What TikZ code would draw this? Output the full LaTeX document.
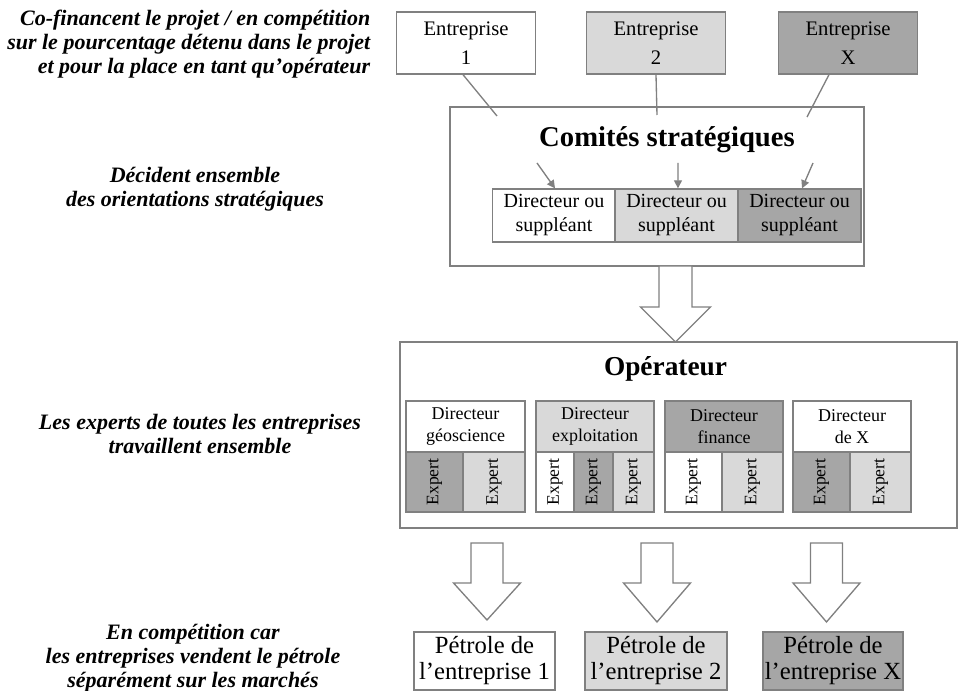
\documentclass[tikz,border=0pt]{standalone}
\usepackage{fontspec}
\setmainfont{Liberation Serif}
\usetikzlibrary{arrows.meta}
\definecolor{boxline}{RGB}{128,128,128}
\definecolor{lightfill}{RGB}{217,217,217}
\definecolor{darkfill}{RGB}{166,166,166}
% hollow arrow pointing down: x, top, head start, tip, shaft half width, head half width
\newcommand{\hollowdown}[6]{%
  \draw[boxline,line width=1pt,fill=white,line join=miter]
    ({#1-#5},#2) -- ({#1-#5},#3) -- ({#1-#6},#3) -- (#1,#4)
    -- ({#1+#6},#3) -- ({#1+#5},#3) -- ({#1+#5},#2) -- cycle;}
\begin{document}
\begin{tikzpicture}[x=0.75pt,y=-0.75pt,
    box/.style={draw=boxline,line width=1pt,inner sep=0pt,align=center},
    entbox/.style={box,minimum width=104pt,minimum height=46.5pt,
      font=\fontsize{15.5}{22}\selectfont},
    dirbox/.style={box,minimum width=92.25pt,minimum height=39.75pt,
      font=\fontsize{15}{18}\selectfont},
    opdir/.style={box,minimum height=38.25pt,font=\fontsize{13.5}{16.5}\selectfont},
    expert/.style={box,minimum height=45pt,font=\fontsize{13.2}{15}\selectfont},
    oilbox/.style={box,minimum height=43.5pt,font=\fontsize{18.5}{19.5}\selectfont},
    side/.style={font=\fontsize{16.5}{18}\selectfont\bfseries\itshape,align=center},
    link/.style={boxline,line width=1pt},
    darr/.style={boxline,line width=1pt,-{Triangle[length=6pt,width=6pt]}}]
  \useasboundingbox (0,0) rectangle (958,691);

  % left column
  \node[side,align=right,anchor=east] (txtfin) at (375,44)
    {Co-financent le projet / en compétition\\sur le pourcentage détenu dans le projet\\et pour la place en tant qu’opérateur};
  \node[side] (txtdec) at (195,189) {Décident ensemble\\des orientations stratégiques};
  \node[side] (txtexp) at (200,434) {Les experts de toutes les entreprises\\travaillent ensemble};
  \node[side] (txtcomp) at (193,658) {En compétition car\\les entreprises vendent le pétrole\\séparément sur les marchés};

  % entreprises
  \node[entbox,fill=white] (ent1) at (466,43) {Entreprise\\1};
  \node[entbox,fill=lightfill] (ent2) at (656,43) {Entreprise\\2};
  \node[entbox,fill=darkfill] (entX) at (848,43) {Entreprise\\X};

  % comites strategiques
  \node[box,fill=white,minimum width=310.5pt,minimum height=119.25pt] (comite) at (657,186.5) {};
  \node[font=\fontsize{21.5}{24}\selectfont\bfseries] (comtitle) at (667,140) {Comités stratégiques};
  \node[dirbox,fill=white] (dir1) at (554,215.5) {Directeur ou\\suppléant};
  \node[dirbox,fill=lightfill] (dir2) at (676.5,215.5) {Directeur ou\\suppléant};
  \node[dirbox,fill=darkfill] (dir3) at (799.5,215.5) {Directeur ou\\suppléant};

  \coordinate (in1) at (497,116);
  \coordinate (in2) at (657,115);
  \coordinate (inX) at (807,117);
  \draw[link] ([xshift=-2.25pt]ent1.south) -- (in1);
  \draw[link] (ent2.south) -- (in2);
  \draw[link] ([xshift=-14.25pt]entX.south) -- (inX);

  \coordinate (s1) at (537,163);
  \coordinate (s2) at (678,163);
  \coordinate (s3) at (813,163);
  \draw[darr] (s1) -- ([xshift=0.75pt]dir1.north);
  \draw[darr] (s2) -- ([xshift=1.1pt]dir2.north);
  \draw[darr] (s3) -- ([xshift=1.9pt]dir3.north);

  % operateur
  \node[box,fill=white,minimum width=417.75pt,minimum height=139.5pt] (oper) at (678.5,435) {};
  \node[font=\fontsize{20.5}{24}\selectfont\bfseries] (optitle) at (665.5,369) {Opérateur};

  \node[opdir,fill=white,minimum width=89.25pt] (geo) at (465.5,426.5) {Directeur\\géoscience};
  \node[expert,fill=darkfill,minimum width=42.75pt] (geoA) at (434.5,482) {\rotatebox{90}{Expert}};
  \node[expert,fill=lightfill,minimum width=46.5pt] (geoB) at (494,482) {\rotatebox{90}{Expert}};

  \node[opdir,fill=lightfill,minimum width=88.5pt] (expl) at (595,426.5) {Directeur\\exploitation};
  \node[expert,fill=white,minimum width=28.5pt] (explA) at (555,482) {\rotatebox{90}{Expert}};
  \node[expert,fill=darkfill,minimum width=29.25pt] (explB) at (593.5,482) {\rotatebox{90}{Expert}};
  \node[expert,fill=lightfill,minimum width=30.75pt] (explC) at (633.5,482) {\rotatebox{90}{Expert}};

  \node[opdir,fill=darkfill,minimum width=88.5pt] (fin) at (724,426.5) {Directeur\\finance};
  \node[expert,fill=white,minimum width=42.75pt] (finA) at (693.5,482) {\rotatebox{90}{Expert}};
  \node[expert,fill=lightfill,minimum width=45.75pt] (finB) at (752.5,482) {\rotatebox{90}{Expert}};

  \node[opdir,fill=white,minimum width=88.5pt] (dirX) at (852,426.5) {Directeur\\de X};
  \node[expert,fill=darkfill,minimum width=42.75pt] (dirXA) at (821.5,482) {\rotatebox{90}{Expert}};
  \node[expert,fill=lightfill,minimum width=45.75pt] (dirXB) at (880.5,482) {\rotatebox{90}{Expert}};

  % hollow arrows
  \hollowdown{675.5}{266}{307}{342}{16.5}{35}
  \hollowdown{487}{543}{583}{620}{16}{33.5}
  \hollowdown{657}{543}{583}{622}{16}{33.5}
  \hollowdown{826.5}{543}{583}{622}{16}{33.5}

  % petrole
  \node[oilbox,fill=white,minimum width=105.75pt] (oil1) at (484.5,661) {Pétrole de\\l’entreprise 1};
  \node[oilbox,fill=lightfill,minimum width=106.5pt] (oil2) at (656,661) {Pétrole de\\l’entreprise 2};
  \node[oilbox,fill=darkfill,minimum width=105pt] (oilX) at (833,661) {Pétrole de\\l’entreprise X};
\end{tikzpicture}
\end{document}
